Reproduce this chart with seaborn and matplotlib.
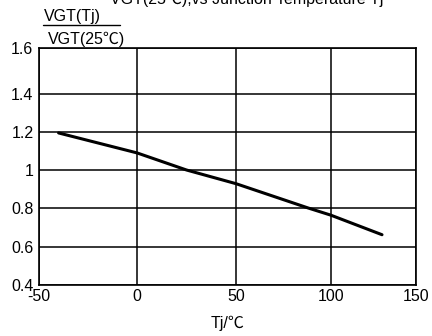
import numpy as np
import pandas as pd
import matplotlib
matplotlib.use("Agg")
import matplotlib.pyplot as plt
import seaborn as sns

# Normalised gate trigger voltage vs junction temperature
tj = [-40, 0, 25, 50, 88, 100, 130]
vgt_ratio = [1.195, 1.09, 1.0, 0.928, 0.80, 0.763, 0.663]

x_ticks = [-50, 0, 50, 100, 150]
x_tick_labels = ["-50", "0", "50", "100", "150"]
y_ticks = [0.4, 0.6, 0.8, 1.0, 1.2, 1.4, 1.6]
y_tick_labels = ["0.4", "0.6", "0.8", "1", "1.2", "1.4", "1.6"]

# uneven grid spacing of the printed datasheet graph
x_pos = [0, 98, 197, 292, 377]
y_pos = [0, 38, 77, 115, 153, 191, 237]

sns.set_theme(style="white")
plt.rcParams["font.family"] = ["Liberation Sans", "Noto Sans CJK SC", "DejaVu Sans"]

df = pd.DataFrame({"Tj": tj, "ratio": vgt_ratio})

fig = plt.figure(figsize=(4.32, 3.36), dpi=100)
ax = fig.add_axes([39 / 432, 51 / 336, 377 / 432, 237 / 336])

sns.lineplot(data=df, x="Tj", y="ratio", ax=ax, color="black", linewidth=2.2)

ax.set_xscale("function", functions=(lambda v: np.interp(v, x_ticks, x_pos),
                                     lambda p: np.interp(p, x_pos, x_ticks)))
ax.set_yscale("function", functions=(lambda v: np.interp(v, y_ticks, y_pos),
                                     lambda p: np.interp(p, y_pos, y_ticks)))
ax.set_xlim(-50, 150)
ax.set_ylim(0.4, 1.6)
ax.set_xticks(x_ticks)
ax.set_xticklabels(x_tick_labels)
ax.set_yticks(y_ticks)
ax.set_yticklabels(y_tick_labels)
ax.minorticks_off()
ax.tick_params(length=0, labelsize=11.5, colors="black", pad=4)
ax.tick_params(axis="x", pad=3)
ax.grid(True, color="black", linewidth=1.1)
for s in ax.spines.values():
    s.set_color("black")
    s.set_linewidth(1.2)
    s.set_visible(True)

ax.set_xlabel("Tj/℃", fontsize=11.5, color="black", labelpad=8)
ax.set_ylabel("")

# stacked ratio label in the upper-left corner
fig.text(44 / 432, 1 - 16 / 336, "VGT(Tj)", fontsize=11.5, color="black",
         ha="left", va="center")
fig.add_artist(plt.Line2D([43 / 432, 120 / 432], [1 - 25 / 336, 1 - 25 / 336],
                          color="black", linewidth=1.0))
fig.text(48 / 432, 1 - 39 / 336, "VGT(25℃)", fontsize=11.5, color="black",
         ha="left", va="center")

fig.text(247 / 432, 1 - 4 / 336, "VGT(25℃),vs Junction Temperature Tj",
         fontsize=11.5, color="black", ha="center", va="baseline")

fig.savefig("out.png", dpi=100)
